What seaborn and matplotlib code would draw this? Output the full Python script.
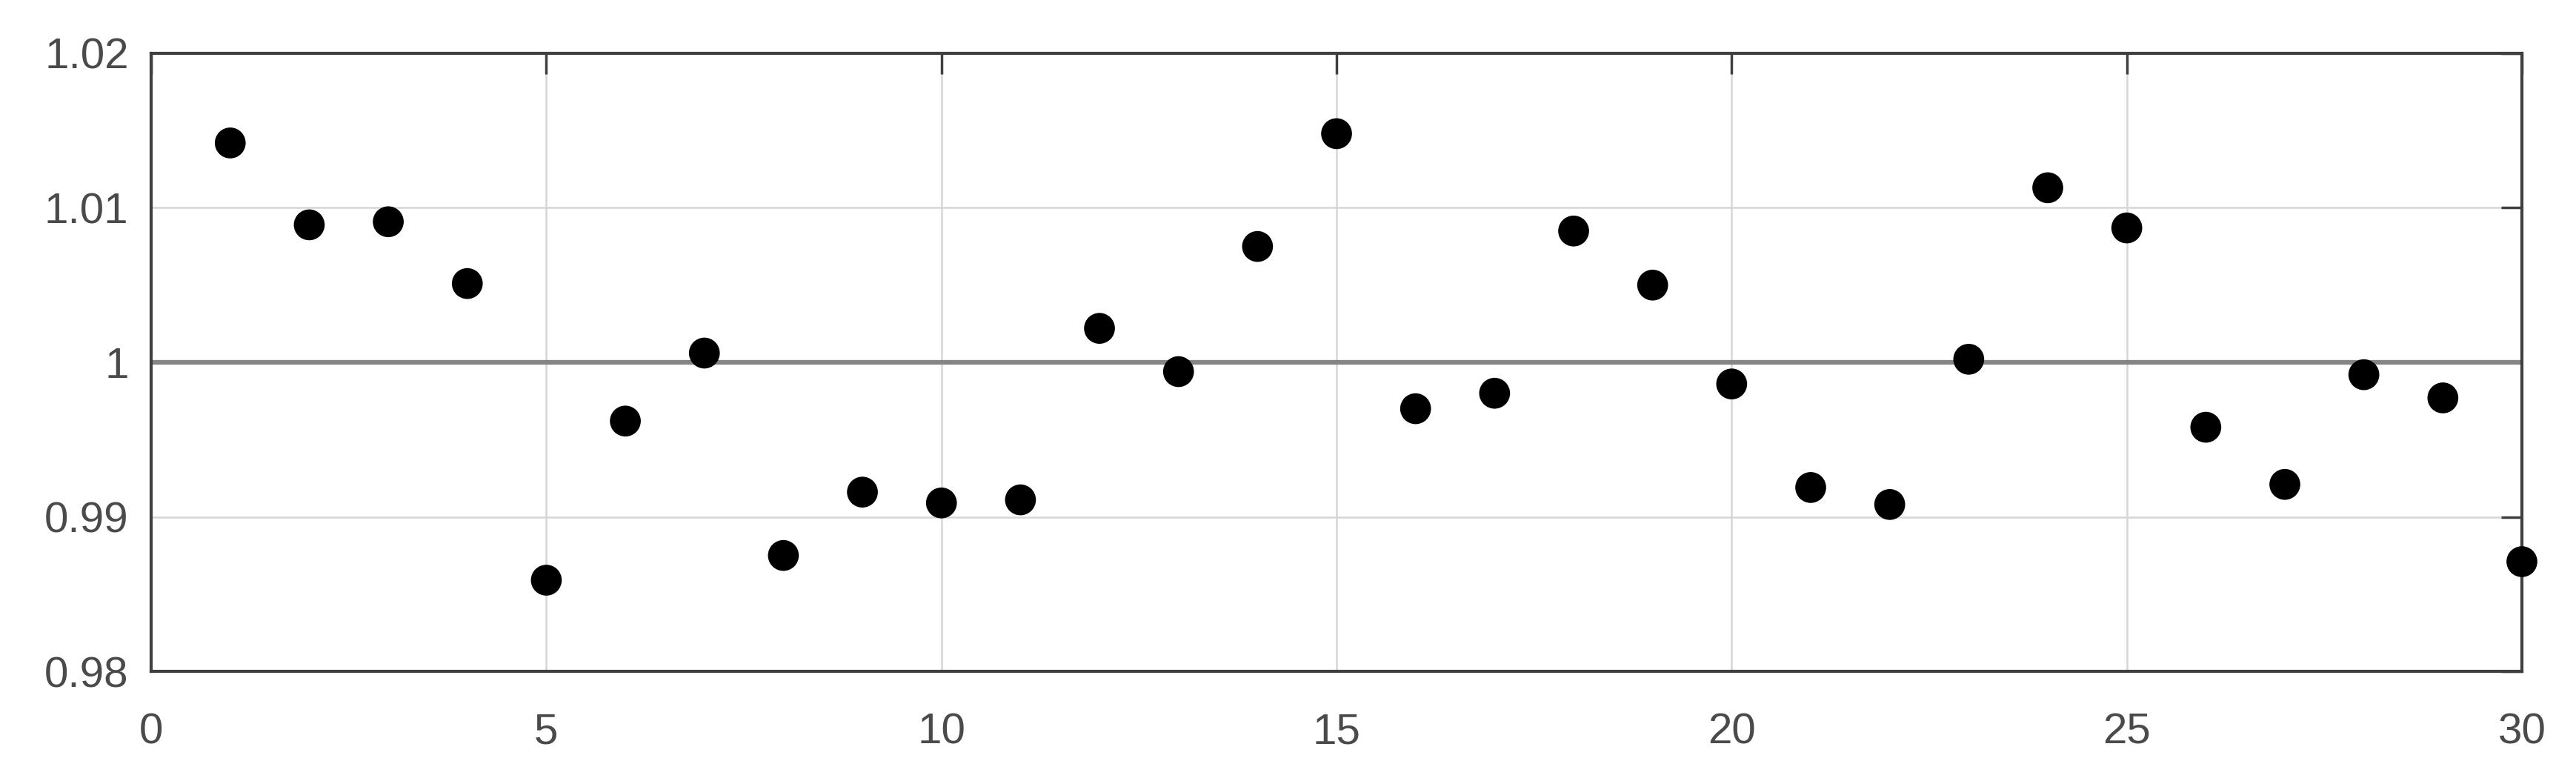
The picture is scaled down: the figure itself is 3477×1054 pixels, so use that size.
import numpy as np
import pandas as pd
import matplotlib
matplotlib.use("Agg")
import matplotlib.pyplot as plt
import seaborn as sns

# valores
muestra = list(range(1, 31))
razon = [1.0142, 1.0089, 1.0091, 1.0051, 0.9859, 0.9962, 1.0006, 0.9875, 0.9916, 0.9909,
         0.9911, 1.0022, 0.9994, 1.0075, 1.0148, 0.9970, 0.9980, 1.0085, 1.0050, 0.9986,
         0.9919, 0.9908, 1.0002, 1.0113, 1.0087, 0.9958, 0.9921, 0.9992, 0.9977, 0.9871]
x_ticks = [0, 5, 10, 15, 20, 25, 30]
y_ticks = [0.98, 0.99, 1.0, 1.01, 1.02]
y_tick_labels = ["0.98", "0.99", "1", "1.01", "1.02"]
referencia = 1.0

df = pd.DataFrame({"muestra": muestra, "razon": razon})

sns.set_style("white")
plt.rcParams["font.family"] = ["Liberation Sans", "DejaVu Sans"]

fig = plt.figure(figsize=(34.77, 10.54), dpi=100)
ax = fig.add_axes([0.0587, 0.1404, 0.9203, 0.7913])

ax.set_xlim(0, 30)
ax.set_ylim(0.98, 1.02)
ax.set_xticks(x_ticks)
ax.set_yticks(y_ticks)
ax.set_yticklabels(y_tick_labels)

ax.grid(True, color="#d6d6d6", linewidth=1.8)
ax.set_axisbelow(True)
ax.axhline(referencia, color="#858585", linewidth=4.5, zorder=2)

sns.scatterplot(data=df, x="muestra", y="razon", ax=ax, color="black",
                s=900, edgecolor="none", zorder=3, clip_on=False, legend=False)

ax.set_xlabel("")
ax.set_ylabel("")
for sp in ax.spines.values():
    sp.set_color("#404040")
    sp.set_linewidth(3)
ax.tick_params(axis="both", direction="in", length=20, width=2.5, color="#404040",
               labelsize=42, labelcolor="#4a4a4a", top=True, right=True)
ax.tick_params(axis="x", pad=40)
ax.tick_params(axis="y", pad=22)

fig.savefig("out.png", dpi=100, facecolor="white")
